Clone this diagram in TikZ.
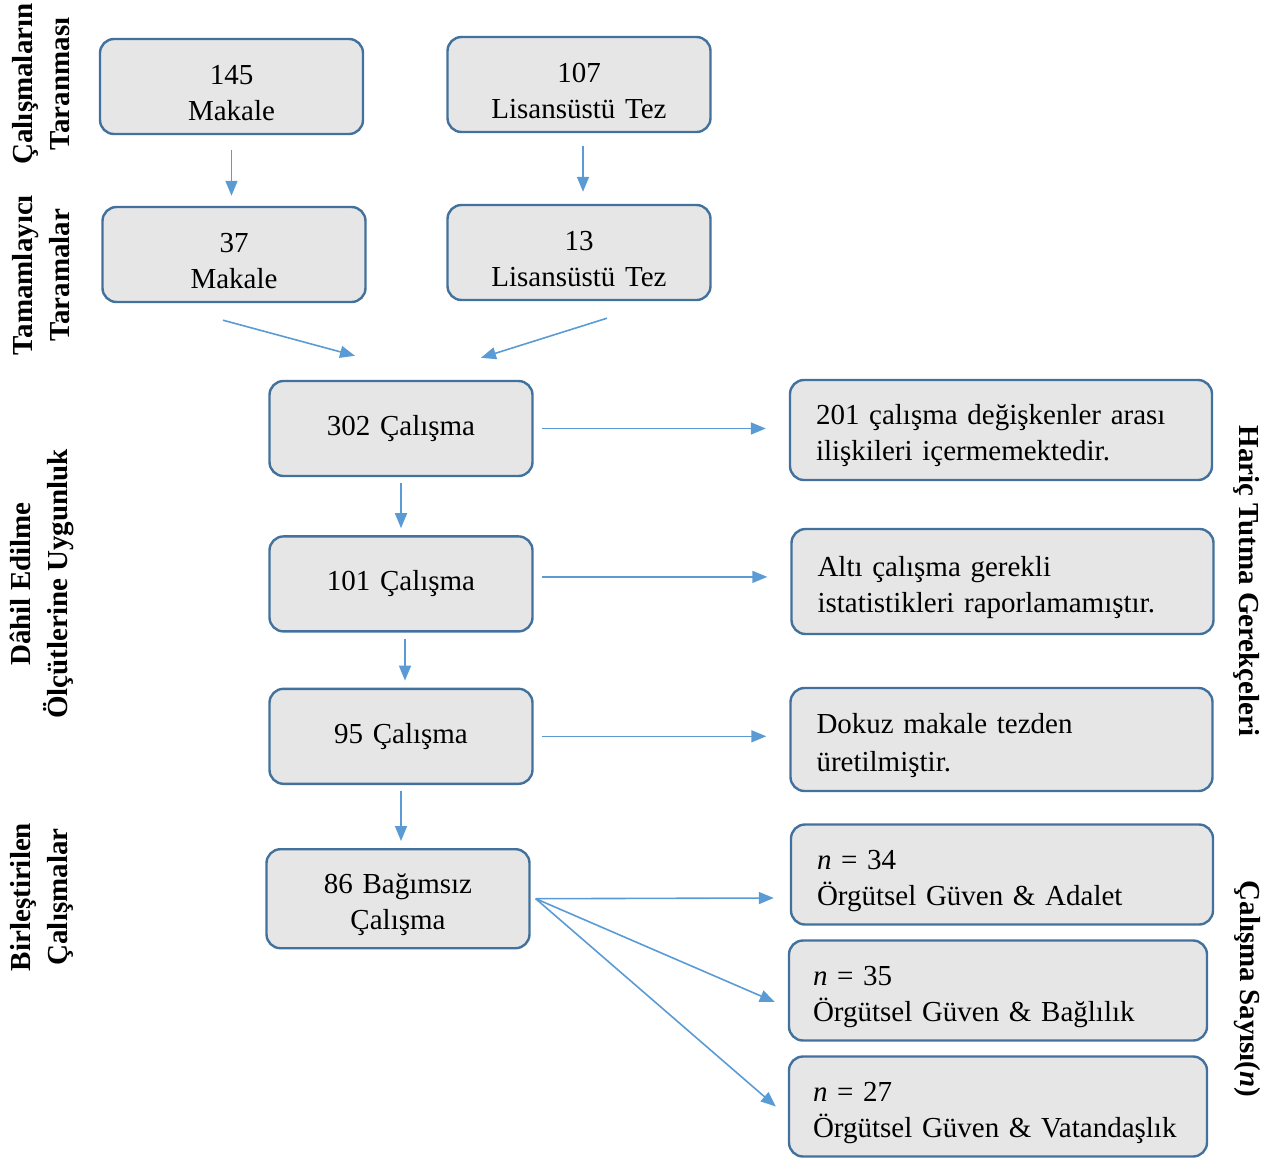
\documentclass[tikz,border=0pt]{standalone}
\usepackage{fontspec}
\setmainfont{Liberation Serif}
\usetikzlibrary{positioning,arrows.meta,calc}
\definecolor{boxline}{HTML}{41719C}
\definecolor{boxfill}{HTML}{E7E6E6}
\definecolor{arrowblue}{HTML}{5B9BD5}
\tikzset{
  box/.style={rectangle, draw=boxline, fill=boxfill, line width=1.2pt, rounded corners=7pt, minimum width=131.5pt, minimum height=47.5pt, text width=125pt, align=center, inner sep=3pt, font=\fontsize{14.5}{18}\selectfont},
  twoline/.style={execute at begin node={\rule{0pt}{16pt}}},
  wbox/.style={box, twoline, minimum width=211pt, minimum height=50pt, text width=185pt, align=left},
  arr/.style={-{Triangle[length=7.5pt,width=6pt]}, line width=0.8pt, color=arrowblue},
  side/.style={font=\bfseries\fontsize{14.5}{18.5}\selectfont, align=center}
}

\begin{document}
\begin{tikzpicture}[x=0.5pt, y=-0.5pt]
\useasboundingbox (0,0) rectangle (1274,1157);
% screening
\node[box, twoline] (A1) at (231.5,86.5) {145\\Makale};
\node[box, twoline] (A2) at (579,84.5) {107\\Lisansüstü Tez};
\node[box, twoline] (B1) at (234,254.5) {37\\Makale};
\node[box, twoline] (B2) at (579,252.5) {13\\Lisansüstü Tez};
% eligibility chain
\node[box] (C1) at (401,428.5) {302 Çalışma};
\node[box, below=29pt of C1] (C2) {101 Çalışma};
\node[box, below=27.5pt of C2] (C3) {95 Çalışma};
\node[box, twoline, below=31.5pt of C3, minimum height=49.5pt, xshift=-1.5pt] (C4) {86 Bağımsız\\Çalışma};
% exclusion reasons
\node[wbox] (R1) at (1001,430) {201 çalışma değişkenler arası\\ilişkileri içermemektedir.};
\node[wbox, minimum height=52.5pt] (R2) at (1002.5,581.5) {Altı çalışma gerekli\\istatistikleri raporlamamıştır.};
\node[wbox, minimum height=51.5pt] (R3) at (1001.5,739.5) {Dokuz makale tezden\\[1pt]üretilmiştir.};
% pooled studies
\node[wbox] (N1) at (1002,874.5) {\textit{n} = 34\\Örgütsel Güven \& Adalet};
\node[wbox, minimum width=209pt] (N2) at (998,990.5) {\textit{n} = 35\\Örgütsel Güven \& Bağlılık};
\node[wbox, minimum width=209pt] (N3) at (998,1106.5) {\textit{n} = 27\\Örgütsel Güven \& Vatandaşlık};
% side labels
\node[side, rotate=90] (lscan) at (41.5,84) {Çalışmaların\\Taranması};
\node[side, rotate=90] (lsupp) at (41.5,275) {Tamamlayıcı\\Taramalar};
\node[side, rotate=90] (lelig) at (42,584) {Dâhil Edilme\\Ölçütlerine Uygunluk};
\node[side, rotate=90] (lpool) at (42,897) {Birleştirilen\\Çalışmalar};
\node[side, rotate=-90] (lexcl) at (1247,581) {Hariç Tutma Gerekçeleri};
\node[side, rotate=-90] (lcount) at (1247,989) {Çalışma Sayısı(\textit{n})};
% arrows
\draw[arr, shorten <=7.5pt, shorten >=5pt] (A1.south) -- (A1.south |- B1.north);
\draw[arr, shorten <=6.5pt, shorten >=6pt] ([xshift=2pt]A2.south) -- ([xshift=2pt]A2.south |- B2.north);
\draw[arr] ($(B1.south)+(-11,17)$) -- ($(C1.north)+(-46,-24)$);
\draw[arr] ($(B2.south)+(28,17)$) -- ($(C1.north)+(80,-22)$);
\draw[arr, shorten <=3pt, shorten >=3.5pt] (C1) -- (C2);
\draw[arr, shorten <=3pt, shorten >=3.5pt] ([xshift=2pt]C2.south) -- ([xshift=2pt]C3.north);
\draw[arr, shorten <=3pt, shorten >=3.5pt] (C3.south) -- (C3.south |- C4.north);
\draw[arr, shorten <=4pt, shorten >=11.5pt] (C1.east) -- (C1.east -| R1.west);
\draw[arr, shorten <=4pt, shorten >=11.5pt] ([yshift=3.5pt]C2.east) -- ([yshift=3.5pt]C2.east -| R2.west);
\draw[arr, shorten <=4pt, shorten >=11.5pt] (C3.east) -- (C3.east -| R3.west);
\draw[arr] ($(C4.east)+(5,0)$) -- ($(N1.west)+(-16,23.5)$);
\draw[arr] ($(C4.east)+(5,0)$) -- ($(N2.west)+(-13,11.5)$);
\draw[arr] ($(C4.east)+(5,0)$) -- ($(N3.west)+(-12,0)$);
\end{tikzpicture}
\end{document}
